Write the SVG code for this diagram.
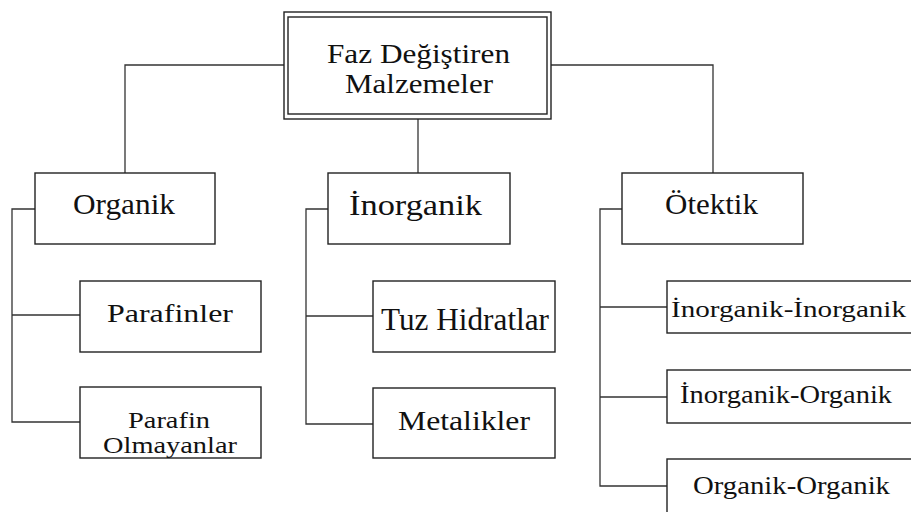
<svg xmlns="http://www.w3.org/2000/svg" width="911" height="512" viewBox="0 0 911 512">
<style>
.bx{fill:#fff;stroke:#222;stroke-width:1.4}
.ln{fill:none;stroke:#333;stroke-width:1.3}
.t{font-family:'Liberation Serif','Times New Roman',serif;fill:#111}
</style>
<rect width="911" height="512" fill="#fff"/>
<g id="connectors" class="ln">
<path d="M284,65 H125 V173"/>
<path d="M551,65 H713 V173"/>
<path d="M418,119 V173"/>
<path d="M35,209 H12 V422 H80 M12,315 H80"/>
<path d="M328,209 H306 V424 H373 M306,316 H373"/>
<path d="M622,209 H600 V486 H667 M600,307 H667 M600,397 H667"/>
</g>
<g id="root">
<rect class="bx" x="284" y="12" width="267" height="107"/>
<rect class="bx" x="288" y="17" width="259" height="97"/>
<text class="t" x="327" y="63" font-size="27.5" textLength="183" lengthAdjust="spacingAndGlyphs">Faz Değiştiren</text>
<text class="t" x="345" y="93" font-size="27.5" textLength="148" lengthAdjust="spacingAndGlyphs">Malzemeler</text>
</g>
<g id="organik">
<rect class="bx" x="35" y="173" width="180" height="71"/>
<text class="t" x="73" y="214" font-size="28.5" textLength="102" lengthAdjust="spacingAndGlyphs">Organik</text>
</g>
<g id="inorganik">
<rect class="bx" x="328" y="173" width="182" height="71"/>
<text class="t" x="349" y="215" font-size="28.5" textLength="133" lengthAdjust="spacingAndGlyphs">İnorganik</text>
</g>
<g id="otektik">
<rect class="bx" x="622" y="173" width="181" height="71"/>
<text class="t" x="665" y="214" font-size="28.5" textLength="93" lengthAdjust="spacingAndGlyphs">Ötektik</text>
</g>
<g id="parafinler">
<rect class="bx" x="80" y="281" width="181" height="71"/>
<text class="t" x="107" y="322" font-size="25" textLength="126" lengthAdjust="spacingAndGlyphs">Parafinler</text>
</g>
<g id="parafin-olmayanlar">
<rect class="bx" x="80" y="387" width="181" height="71"/>
<text class="t" x="128" y="428" font-size="24" textLength="82" lengthAdjust="spacingAndGlyphs">Parafin</text>
<text class="t" x="103" y="453" font-size="24" textLength="134" lengthAdjust="spacingAndGlyphs">Olmayanlar</text>
</g>
<g id="tuz-hidratlar">
<rect class="bx" x="373" y="281" width="182" height="71"/>
<text class="t" x="381" y="330" font-size="32" textLength="168" lengthAdjust="spacingAndGlyphs">Tuz Hidratlar</text>
</g>
<g id="metalikler">
<rect class="bx" x="373" y="388" width="182" height="70"/>
<text class="t" x="398" y="430" font-size="27" textLength="132" lengthAdjust="spacingAndGlyphs">Metalikler</text>
</g>
<g id="inorganik-inorganik">
<rect class="bx" x="667" y="281" width="260" height="52"/>
<text class="t" x="671" y="317" font-size="24" textLength="235" lengthAdjust="spacingAndGlyphs">İnorganik-İnorganik</text>
</g>
<g id="inorganik-organik">
<rect class="bx" x="667" y="370" width="260" height="53"/>
<text class="t" x="680" y="403" font-size="25" textLength="212" lengthAdjust="spacingAndGlyphs">İnorganik-Organik</text>
</g>
<g id="organik-organik">
<rect class="bx" x="667" y="459" width="260" height="70"/>
<text class="t" x="693" y="494" font-size="25" textLength="197" lengthAdjust="spacingAndGlyphs">Organik-Organik</text>
</g>
</svg>
